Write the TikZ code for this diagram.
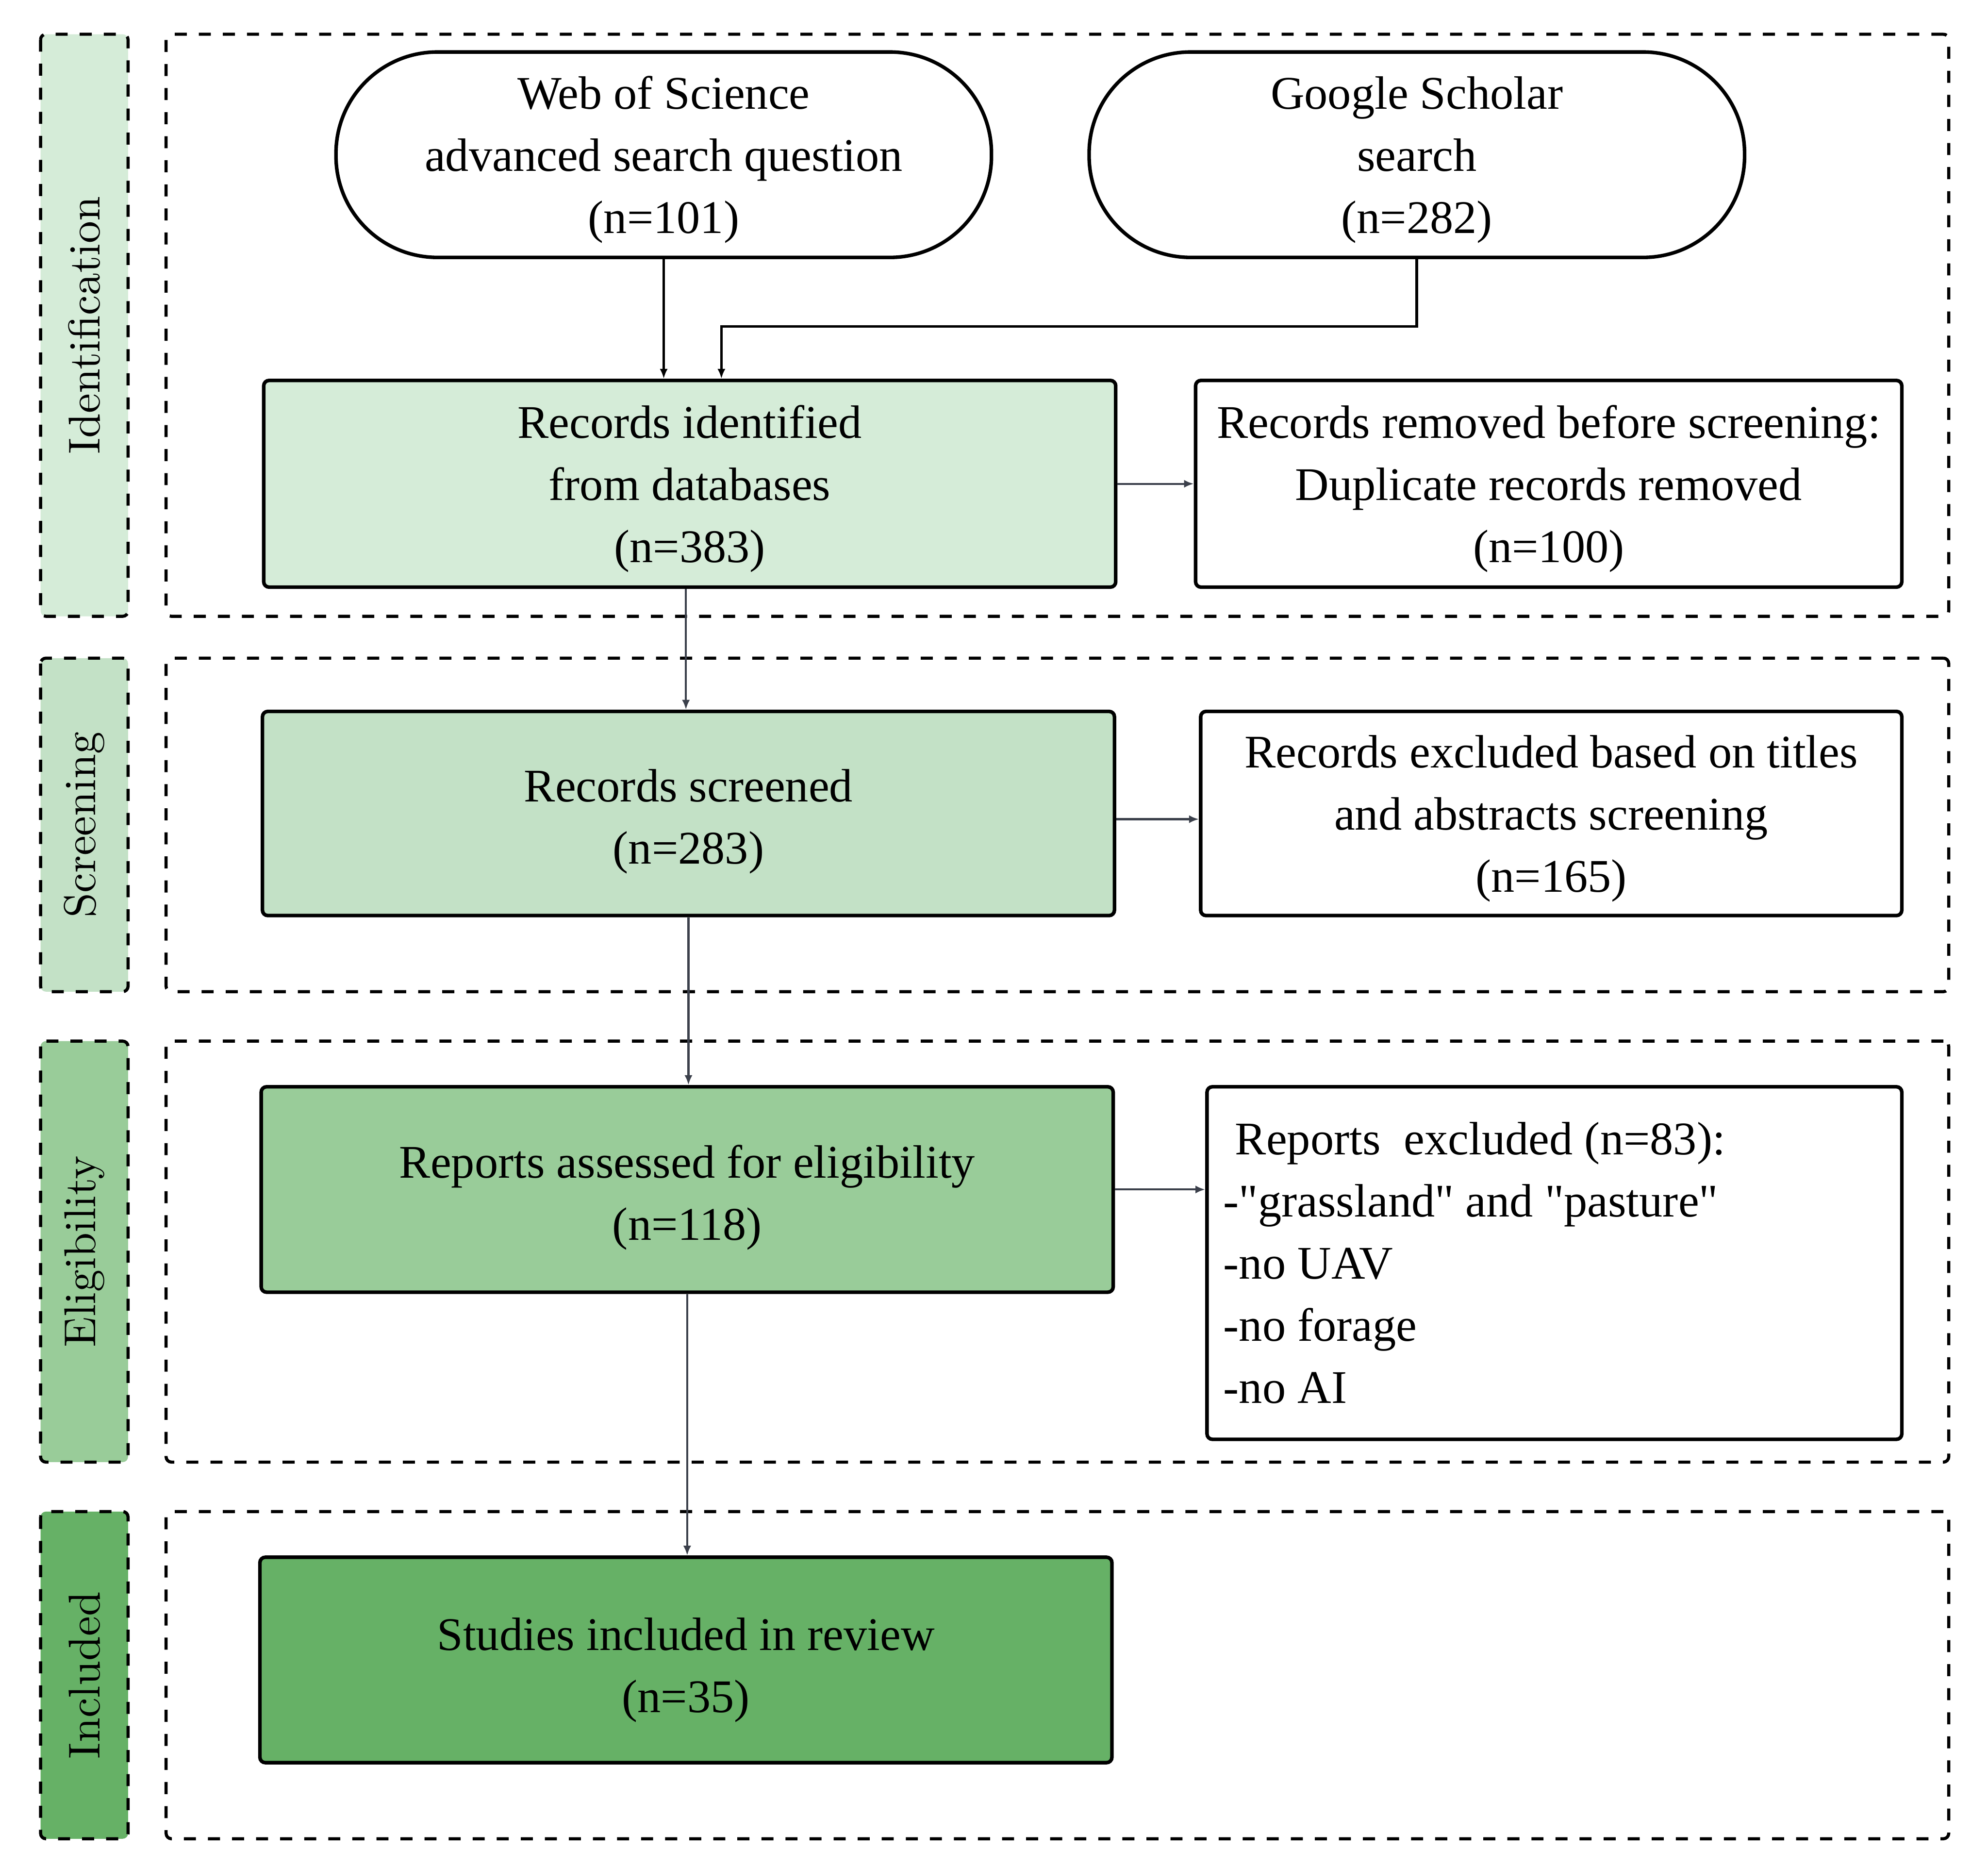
\documentclass[tikz,border=0pt]{standalone}
\usepackage{fontspec}
\newfontfamily\timesfont{Liberation Serif}
\usepackage{tikz}
\usetikzlibrary{arrows.meta}
\definecolor{idgreen}{HTML}{D5ECD8}
\definecolor{scrgreen}{HTML}{C3E1C6}
\definecolor{eliggreen}{HTML}{99CC99}
\definecolor{incgreen}{HTML}{66B166}
\definecolor{flowgray}{HTML}{3B404B}
\newcommand{\stagetext}[2]{\begin{tabular}{@{}c@{}}\rule{0pt}{#1}#2\end{tabular}}
\tikzset{
	phase/.style={draw, dash pattern=on 2.7pt off 2.7pt, line width=0.7pt, rounded corners=1.2pt, rotate=90, minimum height=0.69cm, inner sep=0pt, font=\fontsize{10}{12}\selectfont},
	phaseframe/.style={draw, dash pattern=on 2.7pt off 2.7pt, line width=0.7pt, rounded corners=1.2pt, minimum width=14.06cm, inner sep=0pt},
	stage/.style={draw, line width=0.8pt, rounded corners=1.2pt, minimum width=6.72cm, minimum height=1.62cm, inner sep=0pt, font=\timesfont\fontsize{10.5}{13.95}\selectfont},
	note/.style={stage, fill=white},
	source/.style={stage, rounded corners=0.8cm, minimum width=5.17cm},
	flow/.style={draw=flowgray, line width=0.45pt, -{Latex[length=2.2pt,width=1.8pt]}},
	feed/.style={draw=black, line width=0.6pt, -{Latex[length=2.2pt,width=1.8pt]}}
}
\begin{document}
\begin{tikzpicture}
	\useasboundingbox (0,0) rectangle (15.68,-14.72);
	\node[phase, fill=idgreen, minimum width=4.59cm] (sideId) at (0.665,-2.565) {Identification};
	\node[phase, fill=scrgreen, minimum width=2.63cm] (sideScr) at (0.665,-6.505) {Screening};
	\node[phase, fill=eliggreen, minimum width=3.32cm] (sideElig) at (0.665,-9.87) {Eligibility};
	\node[phase, fill=incgreen, minimum width=2.58cm] (sideInc) at (0.665,-13.21) {Included};
	\node[phaseframe, minimum height=4.59cm] (frameId) at (8.34,-2.565) {};
	\node[phaseframe, minimum height=2.63cm] (frameScr) at (8.34,-6.505) {};
	\node[phaseframe, minimum height=3.32cm] (frameElig) at (8.34,-9.87) {};
	\node[phaseframe, minimum height=2.58cm] (frameInc) at (8.34,-13.21) {};

	\node[source] (wos) at (5.235,-1.22) {\stagetext{11.5pt}{Web of Science\\advanced search question\\(n=101)}};
	\node[source] (google) at (11.175,-1.22) {\stagetext{11.5pt}{Google Scholar\\search\\(n=282)}};
	\node[stage, fill=idgreen, minimum height=1.63cm] (ident) at (5.44,-3.815) {\stagetext{11.5pt}{Records identified\\from databases\\(n=383)}};
	\node[note, minimum width=5.57cm, minimum height=1.63cm] (removed) at (12.215,-3.815) {\stagetext{11.5pt}{Records removed before screening:\\Duplicate records removed\\(n=100)}};
	\node[stage, fill=scrgreen, minimum height=1.61cm] (screened) at (5.43,-6.415) {\stagetext{12.9pt}{Records screened\\(n=283)}};
	\node[note, minimum width=5.53cm, minimum height=1.61cm] (excl) at (12.235,-6.415) {\stagetext{11.5pt}{Records excluded based on titles\\and abstracts screening\\(n=165)}};
	\node[stage, fill=eliggreen] (elig) at (5.42,-9.38) {\stagetext{12.9pt}{Reports assessed for eligibility\\(n=118)}};
	\node[note, align=flush left, text width=5.22cm, inner xsep=0.13cm, minimum width=5.48cm, minimum height=2.78cm] (rexcl) at (12.26,-9.96) {\hspace*{2.6pt}Reports\ \ excluded (n=83):\\-"grassland" and "pasture"\\-no UAV\\-no forage\\-no AI};
	\node[stage, fill=incgreen] (incl) at (5.41,-13.09) {\stagetext{13.8pt}{Studies included in review\\(n=35)}};

	\draw[feed] (wos.south) -- (wos.south |- ident.north);
	\draw[feed] (google.south) -- ++(0,-0.53) -| ([xshift=0.25cm]ident.north);
	\draw[flow] ([xshift=-0.03cm]ident.south) -- ([xshift=-0.03cm]ident.south |- screened.north);
	\draw[flow] (screened.south) -- (screened.south |- elig.north);
	\draw[flow] (elig.south) -- (elig.south |- incl.north);
	\draw[flow] (ident.east) -- (removed.west);
	\draw[flow] ([yshift=-0.045cm]screened.east) -- ([yshift=-0.045cm]screened.east -| excl.west);
	\draw[flow] (elig.east) -- (elig.east -| rexcl.west);
\end{tikzpicture}
\end{document}
